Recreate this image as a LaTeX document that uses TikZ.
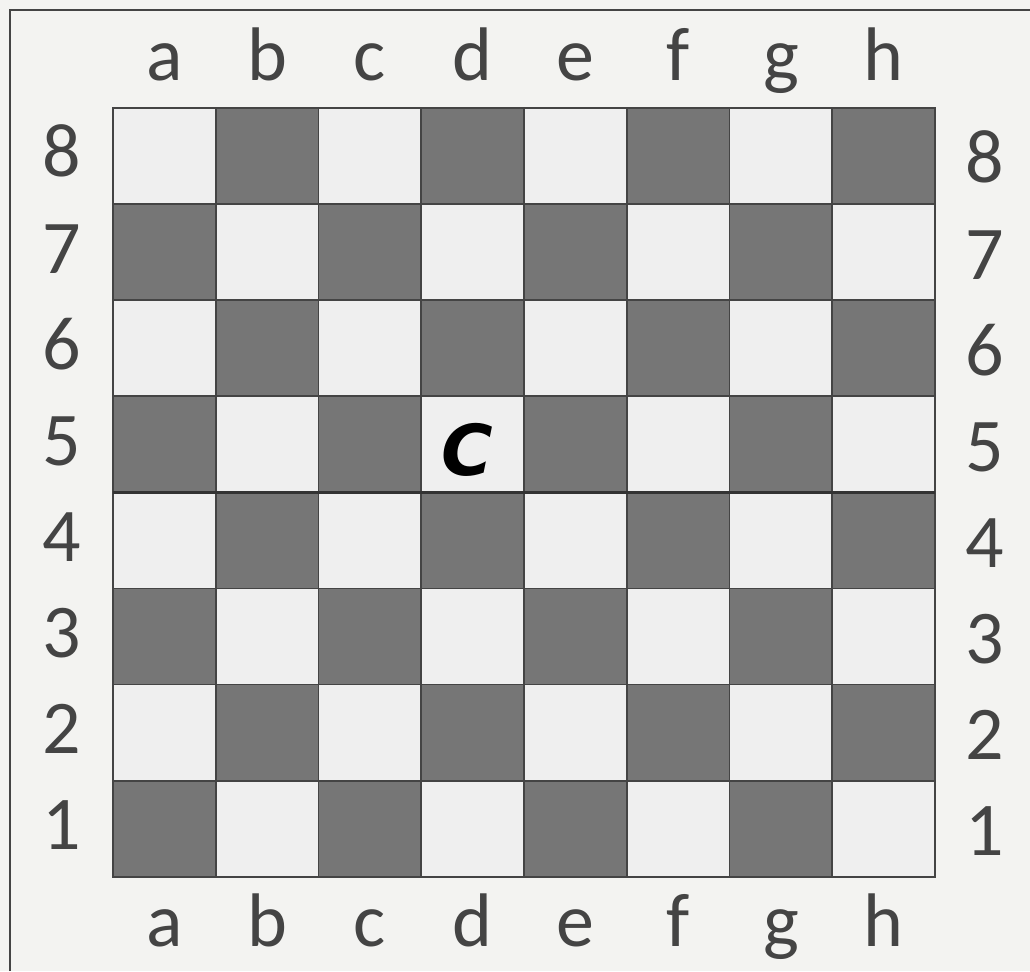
\documentclass[tikz,border=0pt]{standalone}
\usepackage{fontspec}
\setmainfont{Carlito}
\newfontfamily\cfont{DejaVu Sans}
\definecolor{bg}{HTML}{F3F3F1}
\definecolor{dark}{HTML}{767676}
\definecolor{light}{HTML}{EFEFEF}
\definecolor{ink}{HTML}{444444}
\begin{document}
\begin{tikzpicture}[x=0.025cm,y=-0.025cm,
  lbl/.style={font=\fontsize{54}{60}\selectfont, text=ink, inner sep=0pt, anchor=base},
  sq/.style={draw=ink, line width=1.2pt}]
\useasboundingbox (0,0) rectangle (1030,971);
\fill[bg] (0,0) rectangle (1030,971);
\draw[ink, line width=1.6pt] (10,971) -- (10,10) -- (1030,10);
\foreach \i in {0,...,7}{
  \foreach \j in {0,...,7}{
    \pgfmathtruncatemacro{\p}{mod(\i+\j,2)}
    \ifnum\p=0
      \filldraw[sq, fill=light] ({113+102.75*\i},{108+96.1*\j}) rectangle ++(102.75,96.1);
    \else
      \filldraw[sq, fill=dark] ({113+102.75*\i},{108+96.1*\j}) rectangle ++(102.75,96.1);
    \fi
  }
}
\draw[ink, line width=1.6pt] (113,108) rectangle (935,877);
\coordinate (mL) at (113,492.5);
\coordinate (mR) at (935,492.5);
\draw[black!80, line width=2.4pt] (mL) -- (mR);
\foreach \l [count=\k from 0] in {a,b,c,d,e,f,g,h}{
  \node[lbl] (top\l) at ({164.4+102.75*\k},81) {\l};
  \node[lbl] (bot\l) at ({164.4+102.75*\k},946) {\l};
}
\foreach \n [count=\k from 0] in {8,7,6,5,4,3,2,1}{
  \node[lbl] (left\n) at (62,{177+96.1*\k}) {\n};
  \node[lbl] (right\n) at (985,{183+96.1*\k}) {\n};
}
\node[font=\cfont\bfseries\itshape\fontsize{50}{60}\selectfont, inner sep=0pt] (C) at (467,450) {C};
\end{tikzpicture}
\end{document}
